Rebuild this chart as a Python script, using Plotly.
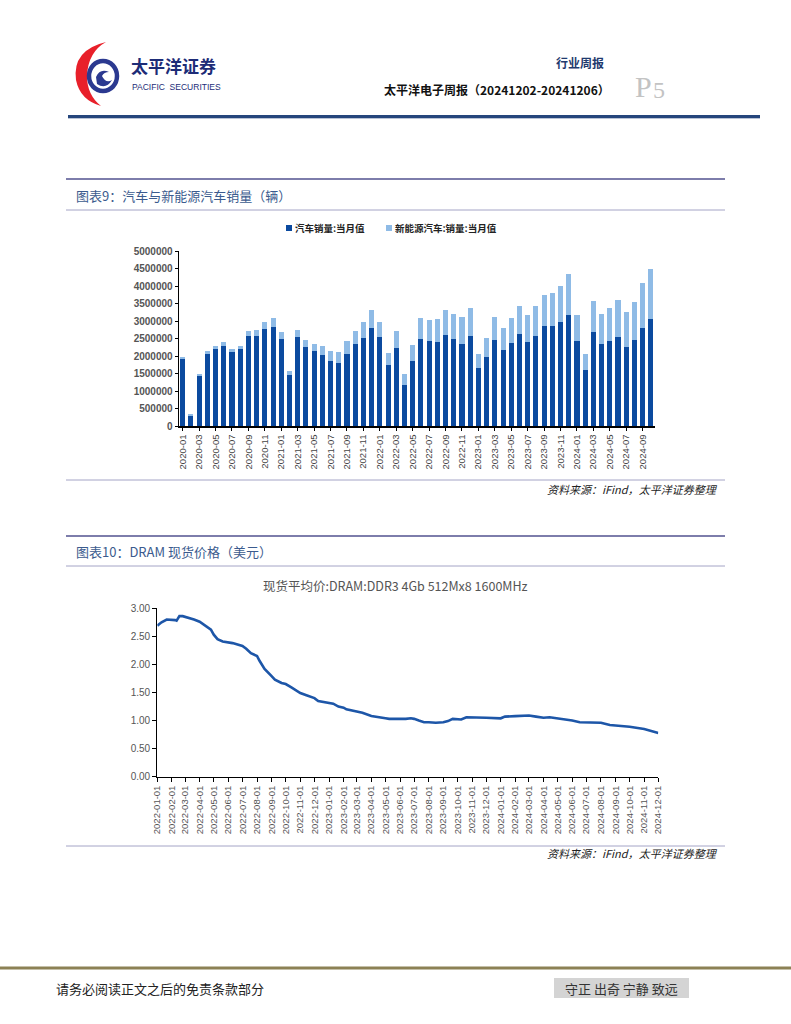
import plotly.graph_objects as go

W, H = 791, 1024

def px(x):
    return x / W

def py(y):
    return 1 - y / H

# ---------------- Chart 1 data: 汽车销量 / 新能源汽车销量 (当月值) ----------------
months = [f"{y}-{m:02d}" for y in range(2020, 2025) for m in range(1, 13)][:58]
car_sales = [1940000, 310000, 1430000, 2070000, 2190000, 2300000, 2110000, 2190000, 2570000, 2570000, 2770000, 2830000,
             2500000, 1450000, 2530000, 2250000, 2130000, 2020000, 1860000, 1800000, 2070000, 2330000, 2520000, 2790000,
             2530000, 1740000, 2230000, 1180000, 1860000, 2500000, 2420000, 2390000, 2610000, 2500000, 2330000, 2560000,
             1650000, 1980000, 2450000, 2160000, 2380000, 2630000, 2390000, 2580000, 2850000, 2850000, 2970000, 3160000,
             2440000, 1590000, 2690000, 2350000, 2420000, 2550000, 2260000, 2450000, 2810000, 3050000]
nev_sales = [44000, 13000, 53000, 72000, 82000, 104000, 98000, 109000, 138000, 160000, 200000, 248000,
             179000, 110000, 226000, 206000, 217000, 256000, 271000, 321000, 357000, 383000, 450000, 531000,
             431000, 334000, 484000, 299000, 447000, 596000, 617000, 666000, 708000, 714000, 786000, 814000,
             408000, 525000, 653000, 636000, 717000, 806000, 780000, 843000, 904000, 956000, 1026000, 1191000,
             729000, 477000, 883000, 850000, 955000, 1049000, 991000, 1100000, 1287000, 1430000]
bar_ticks = months[::2]

# ---------------- Chart 2 data: DRAM DDR3 4Gb 现货平均价 ----------------
dram_dates = ["2022-01-01", "2022-01-10", "2022-01-21", "2022-02-01", "2022-02-08", "2022-02-11", "2022-02-14",
              "2022-02-17", "2022-02-24", "2022-03-01", "2022-03-10", "2022-03-20", "2022-04-01", "2022-04-08",
              "2022-04-18", "2022-04-25", "2022-05-01", "2022-05-09", "2022-05-20", "2022-06-01", "2022-06-10",
              "2022-07-01", "2022-07-09", "2022-07-19", "2022-08-01", "2022-08-06", "2022-08-17", "2022-09-01",
              "2022-09-08", "2022-09-22", "2022-10-01", "2022-10-13", "2022-11-01", "2022-11-14", "2022-12-01",
              "2022-12-09", "2023-01-01", "2023-01-10", "2023-01-21", "2023-02-01", "2023-02-07", "2023-03-01",
              "2023-03-13", "2023-04-01", "2023-04-18", "2023-05-01", "2023-05-09", "2023-06-01", "2023-06-06",
              "2023-06-13", "2023-06-24", "2023-07-01", "2023-07-11", "2023-07-22", "2023-08-01", "2023-08-16",
              "2023-09-01", "2023-09-11", "2023-09-21", "2023-10-01", "2023-10-09", "2023-10-20", "2023-11-01",
              "2023-12-01", "2024-01-01", "2024-01-10", "2024-02-01", "2024-02-25", "2024-03-01", "2024-03-16",
              "2024-04-01", "2024-04-14", "2024-05-01", "2024-06-01", "2024-06-17", "2024-07-01", "2024-07-22",
              "2024-08-01", "2024-08-20", "2024-09-01", "2024-10-01", "2024-11-01", "2024-12-01"]
dram_price = [2.69, 2.75, 2.80, 2.80, 2.79, 2.78, 2.83, 2.86, 2.86, 2.85, 2.82, 2.80, 2.76, 2.72,
              2.67, 2.62, 2.53, 2.45, 2.41, 2.39, 2.38, 2.33, 2.28, 2.20, 2.15, 2.07, 1.92, 1.79,
              1.73, 1.67, 1.65, 1.59, 1.49, 1.45, 1.40, 1.35, 1.31, 1.30, 1.25, 1.23, 1.20, 1.16,
              1.14, 1.08, 1.05, 1.04, 1.03, 1.03, 1.02, 1.03, 1.04, 1.03, 1.00, 0.97, 0.97, 0.96,
              0.97, 0.99, 1.03, 1.02, 1.02, 1.06, 1.06, 1.05, 1.04, 1.07, 1.08, 1.09, 1.09, 1.07,
              1.05, 1.06, 1.04, 1.00, 0.97, 0.97, 0.97, 0.96, 0.92, 0.91, 0.89, 0.85, 0.78]
dram_ticks = [f"{y}-{m:02d}-01" for y in range(2022, 2025) for m in range(1, 13)]

CJK = "Noto Sans CJK SC"
DARK = "#0b4a9f"
LIGHT = "#8fbbe6"

fig = go.Figure()

fig.add_trace(go.Bar(x=months, y=car_sales, name="汽车销量:当月值", marker=dict(color=DARK, line_width=0),
                     xaxis="x", yaxis="y", showlegend=False))
fig.add_trace(go.Bar(x=months, y=nev_sales, name="新能源汽车:销量:当月值", marker=dict(color=LIGHT, line_width=0),
                     xaxis="x", yaxis="y", showlegend=False))
fig.add_trace(go.Scatter(x=dram_dates, y=dram_price, mode="lines", line=dict(color="#1d56a8", width=2.6),
                         xaxis="x2", yaxis="y2", showlegend=False))

shapes = []
annotations = []

def hline(y, x0, x1, color, width):
    shapes.append(dict(type="line", xref="paper", yref="paper", x0=px(x0), x1=px(x1), y0=py(y), y1=py(y),
                       line=dict(color=color, width=width)))

def text(x, y, s, size, color="#000", anchor="left", family=CJK, bold=False, italic=False):
    if bold:
        s = f"<b>{s}</b>"
    if italic:
        s = f"<i>{s}</i>"
    annotations.append(dict(xref="paper", yref="paper", x=px(x), y=py(y), text=s, showarrow=False,
                            xanchor=anchor, yanchor="middle", font=dict(size=size, color=color, family=family)))

# ---- header / logo ----
def P(x, y):
    return f"{px(x):.5f},{py(y):.5f}"

crescent = (f"M {P(106,42)} Q {P(72,50)} {P(76,80)} Q {P(80,100)} {P(101,106)} "
            f"Q {P(87,95)} {P(87,76)} Q {P(88,52)} {P(106,42)} Z")
shapes.append(dict(type="path", xref="paper", yref="paper", path=crescent, fillcolor="#e8202a", line=dict(width=0)))
shapes.append(dict(type="circle", xref="paper", yref="paper", x0=px(89), x1=px(117), y0=py(91), y1=py(61),
                   line=dict(color="#2b3990", width=4.5)))
swirl = (f"M {P(96,77)} Q {P(100,68)} {P(109,72)} Q {P(104,72)} {P(102,76)} Q {P(106,84)} {P(112,80)} "
         f"Q {P(106,90)} {P(97,84)} Z")
shapes.append(dict(type="path", xref="paper", yref="paper", path=swirl, fillcolor="#2b3990", line=dict(width=0)))
annotations.append(dict(xref="paper", yref="paper", x=px(129), y=py(80), text="<b>太平洋证券</b>", showarrow=False,
                        xanchor="left", yanchor="bottom", font=dict(size=17, color="#1d2c77", family=CJK)))
annotations.append(dict(xref="paper", yref="paper", x=px(130), y=py(79.5), text="PACIFIC  SECURITIES", showarrow=False,
                        xanchor="left", yanchor="top", font=dict(size=8.5, color="#1d2c77", family="Liberation Sans")))
text(606, 62, "行业周报", 12, "#1f3a6e", anchor="right", bold=True)
text(612, 89, "太平洋电子周报（20241202-20241206）", 12, "#111", anchor="right", bold=True)
text(633, 86, "P", 30, "#c3c3c3", family="Liberation Serif")
text(651, 90, "5", 24, "#c3c3c3", family="Liberation Serif")
hline(116.5, 68, 760, "#25467c", 3)
hline(118.5, 68, 760, "#b9c3d6", 1)

# ---- section 1 ----
hline(179, 66, 725, "#7d7dab", 2)
text(74, 195, "图表9：汽车与新能源汽车销量（辆）", 13, "#3b5b8e")
hline(210, 66, 725, "#a4a4c6", 1)
# legend
shapes.append(dict(type="rect", xref="paper", yref="paper", x0=px(286), x1=px(292), y0=py(231), y1=py(225),
                   fillcolor=DARK, line=dict(width=0)))
text(293, 228, "汽车销量:当月值", 9.5, "#222", bold=True)
shapes.append(dict(type="rect", xref="paper", yref="paper", x0=px(386), x1=px(392), y0=py(231), y1=py(225),
                   fillcolor=LIGHT, line=dict(width=0)))
text(393, 228, "新能源汽车:销量:当月值", 9.5, "#222", bold=True)
hline(480, 66, 725, "#a4a4c6", 1)
text(720, 489, "资料来源：iFind，太平洋证券整理", 11, "#222", anchor="right", italic=True)

# ---- section 2 ----
hline(536, 66, 725, "#7d7dab", 2)
text(74, 551, "图表10：DRAM 现货价格（美元）", 13, "#3b5b8e")
hline(566, 66, 725, "#a4a4c6", 1)
text(395, 585, "现货平均价:DRAM:DDR3 4Gb 512Mx8 1600MHz", 12.5, "#555", anchor="center")
hline(846, 66, 725, "#a4a4c6", 1)
text(720, 853, "资料来源：iFind，太平洋证券整理", 11, "#222", anchor="right", italic=True)

# ---- footer ----
hline(968, 0, 791, "#8c8155", 3)
shapes.append(dict(type="rect", xref="paper", yref="paper", x0=px(554), x1=px(689), y0=py(998), y1=py(978),
                   fillcolor="#d4d4d4", line=dict(width=0)))
text(54, 988, "请务必阅读正文之后的免责条款部分", 13, "#222")
text(621, 988, "守正 出奇 宁静 致远", 13, "#333", anchor="center")

fig.update_layout(
    width=W, height=H, margin=dict(l=0, r=0, t=0, b=0),
    paper_bgcolor="white", plot_bgcolor="white",
    barmode="stack", bargap=0.38,
    shapes=shapes, annotations=annotations,
    xaxis=dict(domain=[px(178.6), px(655)], type="category", range=[-0.5, 57.5],
               tickmode="array", tickvals=bar_ticks, ticktext=bar_ticks, tickangle=-90,
               tickfont=dict(size=9.5, color="#444", family="Liberation Sans"),
               showline=True, linecolor="#000", linewidth=1.5, ticks="outside", ticklen=3, tickcolor="#000",
               showgrid=False, anchor="y", fixedrange=True, automargin=False),
    yaxis=dict(domain=[py(426), py(251)], range=[0, 5000000], dtick=500000, tickformat="d",
               tickfont=dict(size=10, color="#555", family="Liberation Sans", weight="bold"),
               showline=True, linecolor="#000", linewidth=1, ticks="outside", ticklen=3, tickcolor="#000",
               showgrid=False, zeroline=False, anchor="x", automargin=False),
    xaxis2=dict(domain=[px(157.3), px(658.3)], type="date", range=["2022-01-01", "2024-12-01"],
                tickmode="array", tickvals=dram_ticks, ticktext=dram_ticks, tickangle=-90,
                tickfont=dict(size=9.5, color="#555", family="Liberation Sans"),
                showline=True, linecolor="#000", linewidth=1.2, ticks="outside", ticklen=4, tickcolor="#000",
                showgrid=False, anchor="y2", automargin=False),
    yaxis2=dict(domain=[py(776.7), py(608.3)], range=[0, 3], dtick=0.5, tickformat=".2f",
                tickfont=dict(size=10, color="#555", family="Liberation Sans"),
                showline=True, linecolor="#000", linewidth=1.2, ticks="outside", ticklen=4, tickcolor="#000",
                showgrid=False, zeroline=False, anchor="x2", automargin=False),
)

fig.write_html("out.html", config={"displayModeBar": False},
               post_script="document.body.style.margin='0';document.body.style.overflow='hidden';")
